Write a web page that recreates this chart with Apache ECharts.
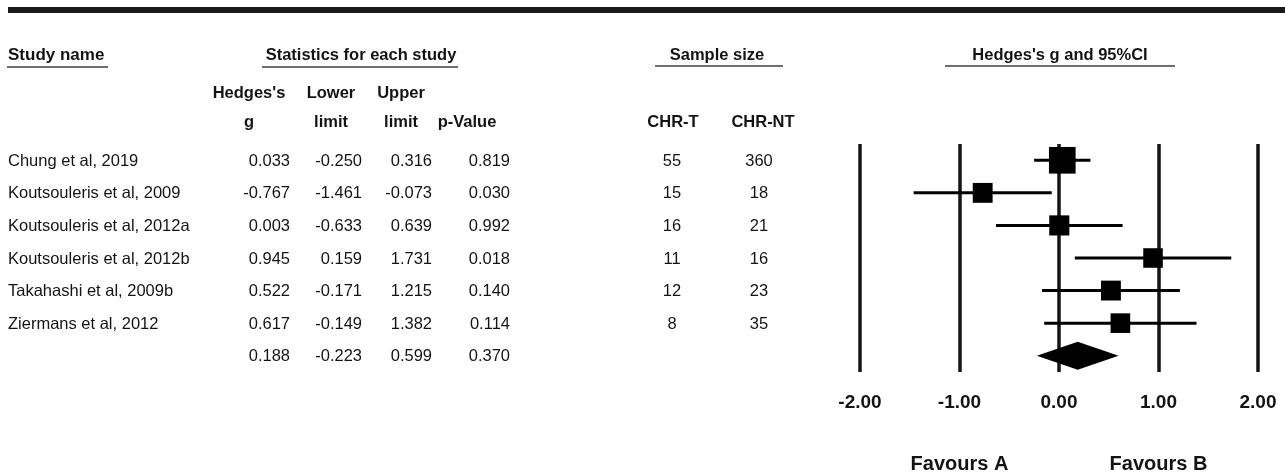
<!DOCTYPE html>
<html>
<head>
<meta charset="utf-8">
<script src="https://cdn.jsdelivr.net/npm/echarts@6/dist/echarts.min.js"></script>
<style>
  html, body { margin: 0; padding: 0; background: #fff; }
  #chart { width: 1285px; height: 474px; }
</style>
</head>
<body>
<div id="chart"></div>
<script>
// Study-level results
const studies = [
  'Chung et al, 2019',
  'Koutsouleris et al, 2009',
  'Koutsouleris et al, 2012a',
  'Koutsouleris et al, 2012b',
  'Takahashi et al, 2009b',
  'Ziermans et al, 2012'
];
const hedgesG    = [0.033, -0.767, 0.003, 0.945, 0.522, 0.617];
const lowerLimit = [-0.250, -1.461, -0.633, 0.159, -0.171, -0.149];
const upperLimit = [0.316, -0.073, 0.639, 1.731, 1.215, 1.382];
const pValues    = [0.819, 0.030, 0.992, 0.018, 0.140, 0.114];
const sampleChrT  = [55, 15, 16, 11, 12, 8];
const sampleChrNT = [360, 18, 21, 16, 23, 35];

// Pooled estimate: g, lower, upper, p
const pooled = [0.188, -0.223, 0.599, 0.370];

// Effect-size axis
const axisTicks = [-2, -1, 0, 1, 2];
const favourLabels = { '-1': 'Favours A', '1': 'Favours B' };

const FONT = "'Liberation Sans', Arial, Helvetica, sans-serif";
const INK = '#141414';
const rowNames = studies.concat(['Overall']);
const pooledRow = studies.length;
const fmt = v => v.toFixed(3);

// box size grows with inverse-variance weight
const boxSizes = hedgesG.map((g, i) => {
  const se = (upperLimit[i] - lowerLimit[i]) / (2 * 1.96);
  return 18.5 + 0.17 / (se * se);
});

// table columns: anchor (px along the table axis) + alignment
const tableColumns = [
  { x: 8,   align: 'left',   cells: studies },
  { x: 290, align: 'right',  cells: hedgesG.concat(pooled[0]).map(fmt) },
  { x: 362, align: 'right',  cells: lowerLimit.concat(pooled[1]).map(fmt) },
  { x: 432, align: 'right',  cells: upperLimit.concat(pooled[2]).map(fmt) },
  { x: 510, align: 'right',  cells: pValues.concat(pooled[3]).map(fmt) },
  { x: 672, align: 'center', cells: sampleChrT.map(String) },
  { x: 759, align: 'center', cells: sampleChrNT.map(String) }
];

const tableSeries = tableColumns.map(col => ({
  type: 'custom',
  xAxisIndex: 2,
  yAxisIndex: 1,
  silent: true,
  data: col.cells.map((c, i) => [col.x, i]),
  encode: { x: 0, y: 1 },
  renderItem: (params, api) => {
    const p = api.coord([api.value(0), api.value(1)]);
    return {
      type: 'text',
      x: p[0],
      y: p[1] + 1,
      style: {
        text: col.cells[params.dataIndex],
        fill: INK,
        fontFamily: FONT,
        fontSize: 16.5,
        align: col.align,
        verticalAlign: 'middle',
        textAlign: col.align,
        textVerticalAlign: 'middle'
      }
    };
  }
}));

// header texts
const headText = (text, x, y, align, size) => ({
  type: 'text',
  x: x, y: y,
  silent: true,
  style: {
    text: text, fill: INK, fontFamily: FONT, fontSize: size || 16.5, fontWeight: 'bold',
    align: align, verticalAlign: 'middle', textAlign: align, textVerticalAlign: 'middle'
  }
});
const underline = (x1, x2, y) => ({
  type: 'line',
  silent: true,
  shape: { x1: x1, y1: y, x2: x2, y2: y },
  style: { stroke: '#6e6e6e', lineWidth: 2 }
});

const columnHeads = [
  { x: 249, lines: ["Hedges's", 'g'] },
  { x: 331, lines: ['Lower', 'limit'] },
  { x: 401, lines: ['Upper', 'limit'] },
  { x: 467, lines: ['', 'p-Value'] },
  { x: 673, lines: ['', 'CHR-T'] },
  { x: 763, lines: ['', 'CHR-NT'] }
];

const graphics = [
  { type: 'rect', silent: true, shape: { x: 8, y: 7, width: 1277, height: 6 }, style: { fill: '#1a1a1a' } },
  headText('Study name', 8, 55, 'left', 17),
  underline(7, 108, 67),
  headText('Statistics for each study', 361, 55, 'center'),
  underline(262, 458, 67),
  headText('Sample size', 717, 55, 'center'),
  underline(655, 783, 66),
  headText("Hedges's g and 95%CI", 1060, 55, 'center'),
  underline(945, 1175, 66)
];
columnHeads.forEach(h => {
  if (h.lines[0]) graphics.push(headText(h.lines[0], h.x, 93, 'center'));
  graphics.push(headText(h.lines[1], h.x, 122, 'center'));
});

const chart = echarts.init(document.getElementById('chart'));
chart.setOption({
  backgroundColor: '#ffffff',
  animation: false,
  textStyle: { fontFamily: FONT },
  grid: [
    { left: 860, right: 27, top: 144, height: 228 },
    { left: 0, width: 840, top: 144, height: 228 }
  ],
  xAxis: [
    {
      gridIndex: 0, type: 'value',
      min: axisTicks[0], max: axisTicks[axisTicks.length - 1], interval: 1,
      axisLine: { show: false }, axisTick: { show: false },
      splitLine: { show: true, lineStyle: { color: INK, width: 3.5 } },
      axisLabel: {
        formatter: v => v.toFixed(2), color: INK, fontFamily: FONT,
        fontSize: 19, fontWeight: 'bold', margin: 21,
        showMinLabel: true, showMaxLabel: true, hideOverlap: false
      }
    },
    {
      gridIndex: 0, type: 'value', position: 'bottom',
      min: axisTicks[0], max: axisTicks[axisTicks.length - 1], interval: 1,
      axisLine: { show: false }, axisTick: { show: false }, splitLine: { show: false },
      axisLabel: {
        formatter: v => favourLabels[String(v)] || '', color: INK, fontFamily: FONT,
        fontSize: 20, fontWeight: 'bold', margin: 82,
        showMinLabel: true, showMaxLabel: true, hideOverlap: false
      }
    },
    { gridIndex: 1, type: 'value', min: 0, max: 840, show: false }
  ],
  yAxis: [
    { gridIndex: 0, type: 'category', data: rowNames, inverse: true, show: false },
    { gridIndex: 1, type: 'category', data: rowNames, inverse: true, show: false }
  ],
  graphic: graphics,
  series: [
    {
      // 95% confidence intervals
      type: 'custom',
      xAxisIndex: 0, yAxisIndex: 0, silent: true,
      data: studies.map((s, i) => [lowerLimit[i], upperLimit[i], i]),
      encode: { x: [0, 1], y: 2 },
      renderItem: (params, api) => {
        const a = api.coord([api.value(0), api.value(2)]);
        const b = api.coord([api.value(1), api.value(2)]);
        return {
          type: 'line',
          shape: { x1: a[0], y1: a[1], x2: b[0], y2: b[1] },
          style: { stroke: '#000', lineWidth: 3 }
        };
      },
      z: 3
    },
    {
      // point estimates
      type: 'scatter',
      xAxisIndex: 0, yAxisIndex: 0, silent: true,
      symbol: 'rect',
      symbolSize: (val, params) => boxSizes[params.dataIndex],
      itemStyle: { color: '#000', opacity: 1 },
      data: hedgesG.map((g, i) => [g, i]),
      z: 4
    },
    {
      // pooled estimate diamond
      type: 'custom',
      xAxisIndex: 0, yAxisIndex: 0, silent: true,
      data: [[pooled[0], pooled[1], pooled[2], pooledRow]],
      encode: { x: [0, 1, 2], y: 3 },
      renderItem: (params, api) => {
        const c = api.coord([api.value(0), api.value(3)]);
        const l = api.coord([api.value(1), api.value(3)]);
        const r = api.coord([api.value(2), api.value(3)]);
        const h = 14;
        return {
          type: 'polygon',
          shape: { points: [[l[0], c[1]], [c[0], c[1] - h], [r[0], c[1]], [c[0], c[1] + h]] },
          style: { fill: '#000' }
        };
      },
      z: 4
    }
  ].concat(tableSeries)
});
</script>
</body>
</html>
